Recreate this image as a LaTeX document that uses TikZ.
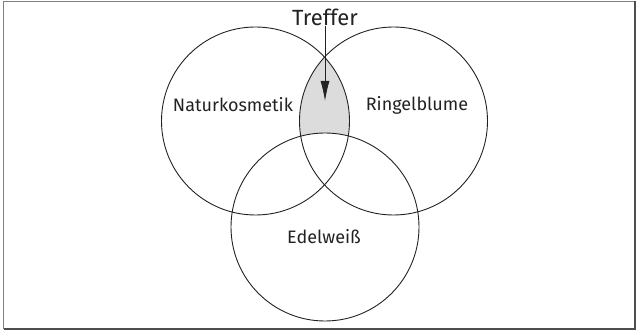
\documentclass[tikz,border=0pt]{standalone}
\usepackage{fontspec}
\setmainfont{Fira Sans}
\usetikzlibrary{arrows.meta}
\definecolor{lens}{HTML}{DCDCDC}
\definecolor{ink}{HTML}{222222}
\tikzset{
  setline/.style={draw=ink, line width=0.9pt},
  setlabel/.style={font=\fontsize{18}{20}\selectfont, text=ink, inner sep=0pt},
  pointer/.style={draw=ink, line width=0.9pt, -{Latex[length=20pt,width=9pt]}}
}
\begin{document}
\begin{tikzpicture}[x=1pt,y=-1pt]
  \useasboundingbox (0,0) rectangle (637,331);
  % frame
  \draw[gray, line width=1.3pt] (3.5,329) -- (3.5,1.5) -- (635,1.5);
  \draw[ink!80, line width=1.3pt] (3.5,329) -- (635,329) -- (635,1.5);
  % shaded lens
  \begin{scope}
    \clip (255.5,121) circle (94pt);
    \clip (393.5,121) circle (94pt);
    \fill[lens] (150,0) rectangle (500,331);
    \fill[white] (325,227) circle (94pt);
  \end{scope}
  % circles
  \draw[setline] (255.5,121) circle (94pt);
  \draw[setline] (393.5,121) circle (94pt);
  \draw[setline] (325,227) circle (94pt);
  % labels
  \node[setlabel] (natur) at (233,105) {Naturkosmetik};
  \node[setlabel] (ringel) at (417,105) {Ringelblume};
  \node[setlabel] (edel) at (324,237) {Edelweiß};
  \node[setlabel, font=\fontsize{22}{24}\selectfont] (treffer) at (325,17) {Treffer};
  \coordinate (hit) at (325,101);
  \draw[pointer] (treffer.south) -- (hit);
\end{tikzpicture}
\end{document}
